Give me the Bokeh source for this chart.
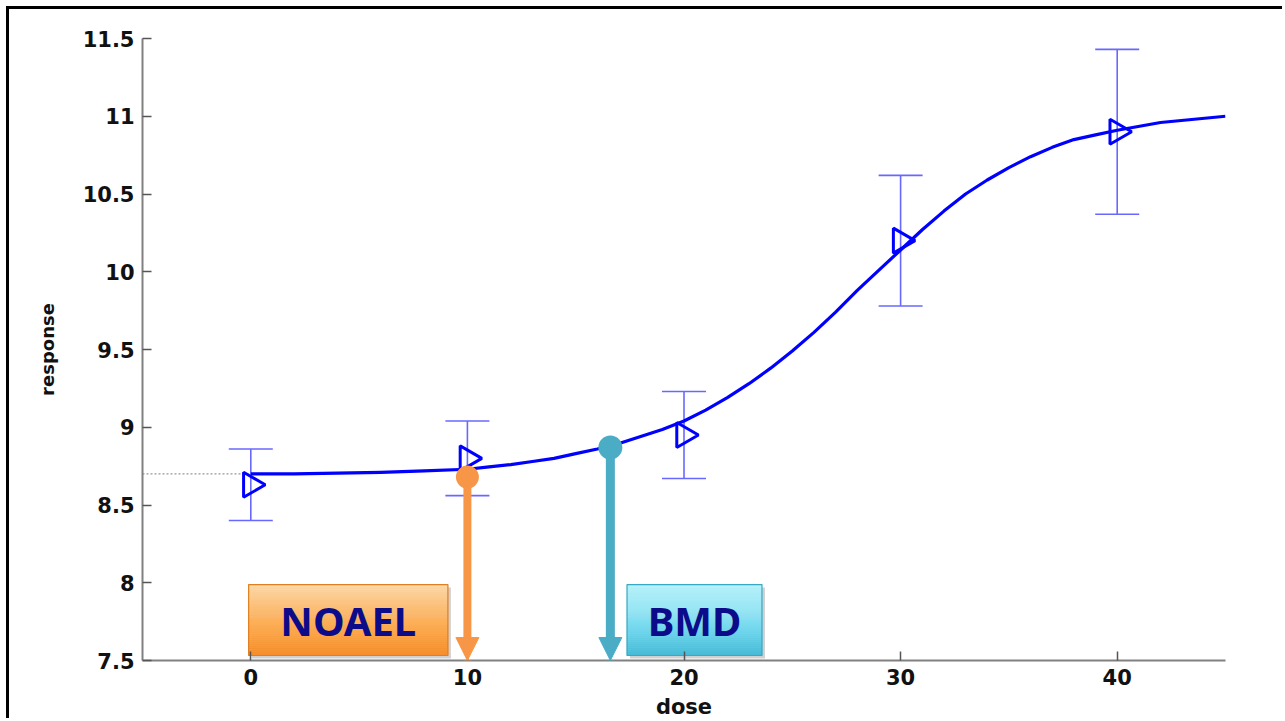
import numpy as np
from bokeh.plotting import figure
from bokeh.models import (Range1d, FixedTicker, ColumnDataSource, Whisker, TeeHead,
                          Arrow, NormalHead, Label)
from bokeh.embed import file_html
from bokeh.resources import INLINE

# ---- data ----
doses = [0, 10, 20, 30, 40]
mean_response = [8.63, 8.80, 8.95, 10.20, 10.90]
err_upper = [8.86, 9.04, 9.23, 10.62, 11.43]
err_lower = [8.40, 8.56, 8.67, 9.78, 10.37]

curve_dose = [0, 2, 4, 6, 8, 10, 11, 12, 13, 14, 15, 16, 17, 18, 19, 20, 21, 22, 23, 24,
              25, 26, 27, 28, 29, 30, 31, 32, 33, 34, 35, 36, 37, 38, 39, 40, 42, 45]
curve_resp = [8.70, 8.70, 8.705, 8.71, 8.72, 8.73, 8.745, 8.76, 8.78, 8.80, 8.83, 8.86,
              8.895, 8.94, 8.985, 9.04, 9.11, 9.19, 9.28, 9.38, 9.49, 9.61, 9.74, 9.88,
              10.01, 10.14, 10.27, 10.39, 10.50, 10.59, 10.67, 10.74, 10.80, 10.85,
              10.88, 10.91, 10.96, 11.00]

baseline_resp = 8.70
noael_dose, noael_resp = 10, 8.68
bmd_dose, bmd_resp = 16.6, 8.87

x_ticks = [0, 10, 20, 30, 40]
y_ticks = [7.5, 8, 8.5, 9, 9.5, 10, 10.5, 11, 11.5]
y_tick_labels = ["7.5", "8", "8.5", "9", "9.5", "10", "10.5", "11", "11.5"]

X_MIN, X_MAX = -5, 45
Y_MIN, Y_MAX = 7.5, 11.5

# ---- figure ----
p = figure(width=1276, height=712, output_backend="svg", toolbar_location=None,
           x_range=Range1d(X_MIN, X_MAX), y_range=Range1d(Y_MIN, Y_MAX),
           min_border_left=133, min_border_right=60, min_border_top=29,
           min_border_bottom=60,
           styles={"border-left": "3px solid black", "border-top": "3px solid black",
                   "margin-left": "6px", "margin-top": "6px"})
p.outline_line_color = None
p.xgrid.visible = False
p.ygrid.visible = False
p.background_fill_color = "white"
p.border_fill_color = "white"

TICK_FONT = "DejaVu Sans"
for ax in (p.xaxis[0], p.yaxis[0]):
    ax.axis_line_color = "#808080"
    ax.axis_line_width = 2
    ax.major_tick_line_color = "#555555"
    ax.major_tick_line_width = 1.5
    ax.major_tick_in = 9
    ax.major_tick_out = 0
    ax.minor_tick_line_color = None
    ax.major_label_text_font = TICK_FONT
    ax.major_label_text_font_style = "bold"
    ax.major_label_text_font_size = "21px"
    ax.major_label_text_color = "#111111"
    ax.axis_label_text_font = TICK_FONT
    ax.axis_label_text_font_style = "bold"
    ax.axis_label_text_color = "#111111"

p.xaxis.ticker = FixedTicker(ticks=x_ticks)
p.yaxis.ticker = FixedTicker(ticks=y_ticks)
p.yaxis.major_label_overrides = {t: l for t, l in zip(y_ticks, y_tick_labels)}
p.xaxis.axis_label = "dose"
p.yaxis.axis_label = "response"
p.xaxis.axis_label_text_font_size = "21px"
p.yaxis.axis_label_text_font_size = "18px"
p.xaxis.major_label_standoff = 8
p.yaxis.major_label_standoff = 8
p.xaxis.axis_label_standoff = 7
p.yaxis.axis_label_standoff = 22

# ---- baseline dotted line ----
p.line([X_MIN, curve_dose[0]], [baseline_resp, baseline_resp], line_color="#999999",
       line_width=1.2, line_dash="2 2")

# ---- error bars ----
src = ColumnDataSource(dict(x=doses, y=mean_response, upper=err_upper, lower=err_lower))
EB = "#6868ff"
wh = Whisker(base="x", upper="upper", lower="lower", source=src, dimension="height",
             line_color=EB, line_width=1.6,
             upper_head=TeeHead(size=44, line_color=EB, line_width=1.6),
             lower_head=TeeHead(size=44, line_color=EB, line_width=1.6))
p.add_layout(wh)

# ---- fitted curve ----
p.line(curve_dose, curve_resp, line_color="#0000ff", line_width=3.2,
       line_join="round")

# ---- markers ----
p.scatter("x", "y", source=src, marker="triangle", size=25, angle=-np.pi / 2,
          fill_color=None, line_color="#0000ff", line_width=3)


# ---- gradient label boxes ----
def hex2rgb(h):
    h = h.lstrip("#")
    return np.array([int(h[i:i + 2], 16) for i in (0, 2, 4)], dtype=float)


def interp(stops, t):
    pos = np.linspace(0, 1, len(stops))
    rgb = np.array([hex2rgb(s) for s in stops])
    c = [np.interp(t, pos, rgb[:, k]) for k in range(3)]
    return "#%02x%02x%02x" % tuple(int(round(v)) for v in c)


def gradient_box(x0, x1, y0, y1, stops, edge, n=36):
    px_x = (X_MAX - X_MIN) / 1083.0
    px_y = (Y_MAX - Y_MIN) / 623.0
    # shadow
    p.quad(left=x0 + 3 * px_x, right=x1 + 3 * px_x, top=y1 - 3 * px_y, bottom=y0 - 3 * px_y,
           fill_color="#000000", fill_alpha=0.18, line_color=None)
    ys = np.linspace(y1, y0, n + 1)
    cols = [interp(stops, (i + 0.5) / n) for i in range(n)]
    p.quad(left=x0, right=x1, top=ys[:-1], bottom=ys[1:], fill_color=cols,
           line_color=cols, line_width=0.5)
    p.quad(left=x0, right=x1, top=y1, bottom=y0, fill_color=None,
           line_color=edge, line_width=1.2)


gradient_box(-0.1, 9.1, 7.532, 7.988, ["#ffd9a6", "#ffbd70", "#fca64a", "#f48d2a"], "#e07f22")
gradient_box(17.37, 23.6, 7.532, 7.988, ["#b3f3fc", "#97e8f7", "#6fd5ec", "#45bad6"], "#39a8c2")

LABEL_FONT = "Noto Sans"
p.add_layout(Label(x=(-0.1 + 9.1) / 2, y=(7.532 + 7.988) / 2, text="NOAEL",
                   text_align="center", text_baseline="middle", text_font=LABEL_FONT,
                   text_font_style="bold", text_font_size="40px", text_color="#0c0c8a"))
p.add_layout(Label(x=(17.37 + 23.6) / 2, y=(7.532 + 7.988) / 2, text="BMD",
                   text_align="center", text_baseline="middle", text_font=LABEL_FONT,
                   text_font_style="bold", text_font_size="40px", text_color="#0c0c8a"))

# ---- arrows ----
ORANGE = "#f79646"
TEAL = "#4bacc6"
p.add_layout(Arrow(x_start=noael_dose, y_start=noael_resp, x_end=noael_dose, y_end=Y_MIN,
                   line_color=ORANGE, line_width=8,
                   end=NormalHead(size=23, fill_color=ORANGE, line_color=ORANGE)))
p.add_layout(Arrow(x_start=bmd_dose, y_start=bmd_resp, x_end=bmd_dose, y_end=Y_MIN,
                   line_color=TEAL, line_width=9,
                   end=NormalHead(size=23, fill_color=TEAL, line_color=TEAL)))
p.scatter([noael_dose], [noael_resp], size=23, marker="circle", fill_color=ORANGE,
          line_color=None)
p.scatter([bmd_dose], [bmd_resp], size=24, marker="circle", fill_color=TEAL,
          line_color=None)

open("out.html", "w").write(file_html(p, INLINE))
